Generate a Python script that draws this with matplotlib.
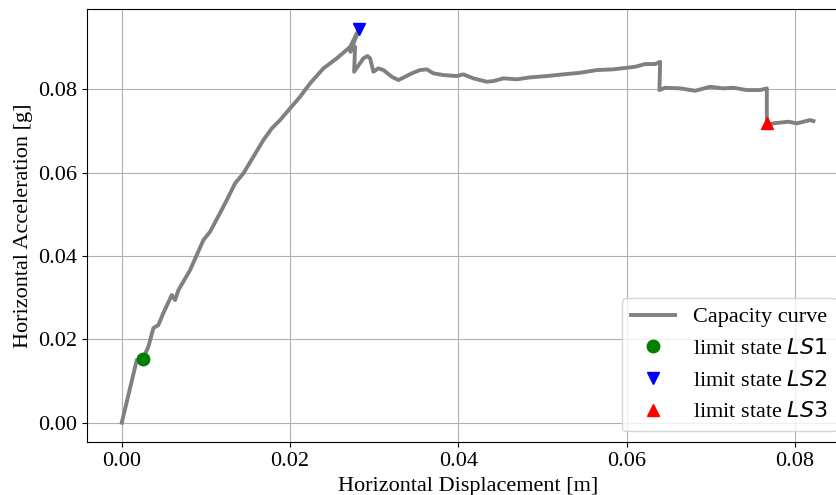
import matplotlib
matplotlib.use('Agg')
import matplotlib.pyplot as plt

plt.rcParams['font.family'] = ['Liberation Serif', 'DejaVu Serif']

# capacity curve
disp = [0.0, 0.00178, 0.00250, 0.00316, 0.00376, 0.00435, 0.00494, 0.00594, 0.00633,
        0.00673, 0.00812, 0.00891, 0.00970, 0.01049, 0.01207, 0.01248, 0.01346, 0.01445,
        0.01564, 0.01683, 0.01783, 0.01881, 0.02000, 0.02119, 0.02238, 0.02396, 0.02555,
        0.02715, 0.02793, 0.02820, 0.02715, 0.02772, 0.02761, 0.02871, 0.02920, 0.02951,
        0.02990, 0.03049, 0.03109, 0.03209, 0.03287, 0.03367, 0.03446, 0.03545, 0.03625,
        0.03703, 0.03822, 0.03981, 0.04059, 0.04178, 0.04337, 0.04416, 0.04535, 0.04694,
        0.04853, 0.05051, 0.05248, 0.05446, 0.05645, 0.05842, 0.06040, 0.06100, 0.06219,
        0.06338, 0.06397, 0.06389, 0.06456, 0.06634, 0.06813, 0.06991, 0.07149, 0.07268,
        0.07427, 0.07585, 0.07665, 0.07665, 0.07743, 0.07922, 0.08021, 0.08179, 0.08219]
acc = [0.0, 0.01504, 0.01529, 0.01824, 0.02272, 0.02344, 0.02632, 0.03064, 0.02944,
       0.03184, 0.03664, 0.04024, 0.04384, 0.04583, 0.05183, 0.05344, 0.05744, 0.05984,
       0.06383, 0.06783, 0.07064, 0.07263, 0.07544, 0.07822, 0.08144, 0.08504, 0.08744,
       0.09022, 0.09344, 0.09445, 0.08902, 0.09022, 0.08422, 0.08744, 0.08800, 0.08744,
       0.08422, 0.08504, 0.08463, 0.08302, 0.08223, 0.08302, 0.08384, 0.08463, 0.08480,
       0.08384, 0.08343, 0.08319, 0.08360, 0.08264, 0.08182, 0.08199, 0.08264, 0.08240,
       0.08288, 0.08319, 0.08360, 0.08398, 0.08463, 0.08480, 0.08528, 0.08542, 0.08607,
       0.08607, 0.08662, 0.07983, 0.08038, 0.08024, 0.07966, 0.08062, 0.08024, 0.08038,
       0.07983, 0.07983, 0.08024, 0.07138, 0.07184, 0.07223, 0.07184, 0.07263, 0.07239]

# limit states
ls1 = (0.00250, 0.01529)
ls2 = (0.02820, 0.09445)
ls3 = (0.07665, 0.07184)

ticks = [0.0, 0.02, 0.04, 0.06, 0.08]
tick_labels = ['0.00', '0.02', '0.04', '0.06', '0.08']

fig = plt.figure(figsize=(8.36, 4.95), dpi=100)
ax = fig.add_axes([0.1044, 0.1065, 0.91, 0.8763])

ax.plot(disp, acc, color='gray', linewidth=2.8, label='Capacity curve', zorder=2)
ax.plot(ls1[0], ls1[1], 'o', color='green', markersize=9, label='limit state $LS1$', zorder=3)
ax.plot(ls2[0], ls2[1], 'v', color='blue', markersize=9, label='limit state $LS2$', zorder=3)
ax.plot(ls3[0], ls3[1], '^', color='red', markersize=9, label='limit state $LS3$', zorder=3)

ax.set_xlim(-0.0041, 0.0863)
ax.set_ylim(-0.0047, 0.0994)
ax.set_xticks(ticks)
ax.set_yticks(ticks)
ax.set_xticklabels(tick_labels)
ax.set_yticklabels(tick_labels)
ax.tick_params(labelsize=16)
ax.grid(True, color='#b0b0b0', linewidth=0.8)
ax.set_xlabel('Horizontal Displacement [m]', fontsize=16)
ax.set_ylabel('Horizontal Acceleration [g]', fontsize=16)

ax.legend(loc='lower right', fontsize=16)

fig.savefig('out.png', dpi=100)
